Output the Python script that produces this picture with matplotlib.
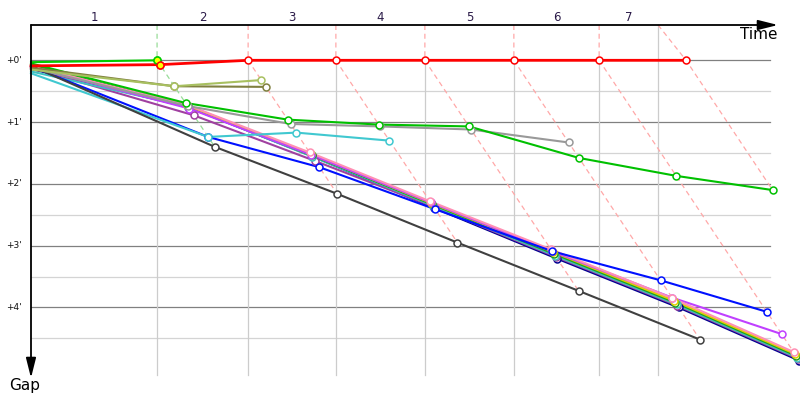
import matplotlib.pyplot as plt

# leader's crossing time at the end of each lap (minutes since the start)
laps = [1, 2, 3, 4, 5, 6, 7]
leader_time = [3.06, 5.27, 7.40, 9.56, 11.72, 13.79, 15.90]
time_limit = 15.22
lap_line_colors = ['#98dc98', '#ffa8a8', '#ffa8a8', '#ffa8a8', '#ffa8a8', '#ffa8a8', '#ffa8a8']

# gap to the leader (minutes): first value at the start, then one per lap
pink = [0.10, 0.72, 1.49, 2.28, 3.06, 3.85, 4.72]
yellow = [0.12, 0.73, 1.52, 2.31, 3.10, 3.89, 4.75]
dkgreen = [0.07, 0.74, 1.54, 2.33, 3.13, 3.92, 4.78]
teal = [0.18, 0.75, 1.56, 2.35, 3.16, 3.95, 4.81]
violet = [0.11, 0.78, 1.53, 2.30, 3.09, 3.84, 4.43]
purple = [0.12, 0.89, 1.63, 2.37, 3.18, 3.97, 4.83]
navy = [0.14, 0.76, 1.55, 2.39, 3.21, 4.00, 4.86]
blue = [0.10, 1.24, 1.73, 2.41, 3.09, 3.56, 4.07]
cyan = [0.21, 1.24, 1.17, 1.30]
black = [0.09, 1.40, 2.16, 2.95, 3.73, 4.52]
grey = [0.12, 0.74, 1.03, 1.07, 1.12, 1.33]
green = [0.05, 0.69, 0.96, 1.04, 1.07, 1.58, 1.87, 2.10]
olive = [0.12, 0.42, 0.43]
khaki = [0.15, 0.42, 0.32]
lime = [0.03, 0.0]
red = [0.09, 0.07, 0.0, 0.0, 0.0, 0.0, 0.0, 0.0]

cars = [(navy, '#000090'), (purple, '#a040a0'), (teal, '#40c0c0'),
        (dkgreen, '#20a020'), (yellow, '#e0d000'), (violet, '#c040ff'),
        (pink, '#ff90b4'), (blue, '#0010ff'), (cyan, '#40c8d0'),
        (black, '#404040'), (grey, '#999999'), (green, '#00c000'),
        (olive, '#808040'), (khaki, '#a8c060'), (lime, '#00cc00'),
        (red, '#ff0000')]
# car lines whose lap-1 marker is filled yellow
yellow_lap1 = ['#00cc00', '#ff0000']

gap_ticks = [0, 1, 2, 3, 4]

# pixel geometry of the original: 41.2 px per minute of time, 61.8 px per minute of gap
PX_T, PX_G = 41.2, 61.8
X0, Y0 = 31, 60.3
TOP = (25 - Y0) / PX_G
BOTTOM = (375 - Y0) / PX_G
RIGHT = (770 - X0) / PX_T

fig = plt.figure(figsize=(8, 4), dpi=100)
ax = fig.add_axes([0, 0, 1, 1])
ax.set_xlim(-X0 / PX_T, (800 - X0) / PX_T)
ax.set_ylim((400 - Y0) / PX_G, -Y0 / PX_G)
ax.axis('off')

# horizontal grid
for g in gap_ticks:
    ax.plot([0, RIGHT], [g, g], color='#808080', lw=0.9, zorder=1)
    ax.plot([0, RIGHT], [g + 0.5, g + 0.5], color='#d4d4d4', lw=0.9, zorder=1)
    ax.text(-0.22, g, "+%d'" % g, ha='right', va='center', fontsize=6.5, color='#111111')

# vertical grid and lap lines
tops = [min(t, time_limit) for t in leader_time]
for i, t in enumerate(leader_time):
    start = 0 if tops[i] == t else TOP
    ax.plot([tops[i], tops[i]], [start, BOTTOM], color='#cccccc', lw=0.9, zorder=1)
    done = [c[i + 1] for c, col in cars if len(c) > i + 1]
    gmax = max(done)
    ax.plot([tops[i], t, t + gmax], [TOP, 0, gmax], color=lap_line_colors[i],
            lw=0.9, ls=(0, (4, 3)), zorder=2)

# lap numbers between the vertical lines
edges = [0] + tops
for i, lap in enumerate(laps):
    ax.text((edges[i] + edges[i + 1]) / 2, -0.69, str(lap), ha='center', va='center',
            fontsize=8.5, color='#2a1a48')

# cars
for gaps, col in cars:
    t = [0.0] + [leader_time[i] + g for i, g in enumerate(gaps[1:])]
    lw = 2.0 if col == '#ff0000' else 1.5
    ax.plot(t, gaps, color=col, lw=lw, zorder=3)
    ax.plot(t[1:], gaps[1:], 'o', ms=5, mfc='white', mec=col, mew=1.1, zorder=4)
    if col in yellow_lap1:
        ax.plot(t[1], gaps[1], 'o', ms=5, mfc='#ffff00', mec=col, mew=1.1, zorder=5)

# axes with arrows
arrow = dict(arrowstyle='-|>,head_length=1.2,head_width=0.3', color='black',
             lw=1.3, mutation_scale=10, shrinkA=0, shrinkB=0)
ax.annotate('', xy=((778 - X0) / PX_T, TOP), xytext=(0, TOP), arrowprops=arrow, zorder=6)
ax.annotate('', xy=(0, (378 - Y0) / PX_G), xytext=(0, TOP), arrowprops=arrow, zorder=6)
ax.text((778 - X0) / PX_T, (35 - Y0) / PX_G, 'Time', ha='right', va='center', fontsize=11)
ax.text(-0.15, (386 - Y0) / PX_G, 'Gap', ha='center', va='center', fontsize=11)

fig.savefig('out.png', dpi=100)
